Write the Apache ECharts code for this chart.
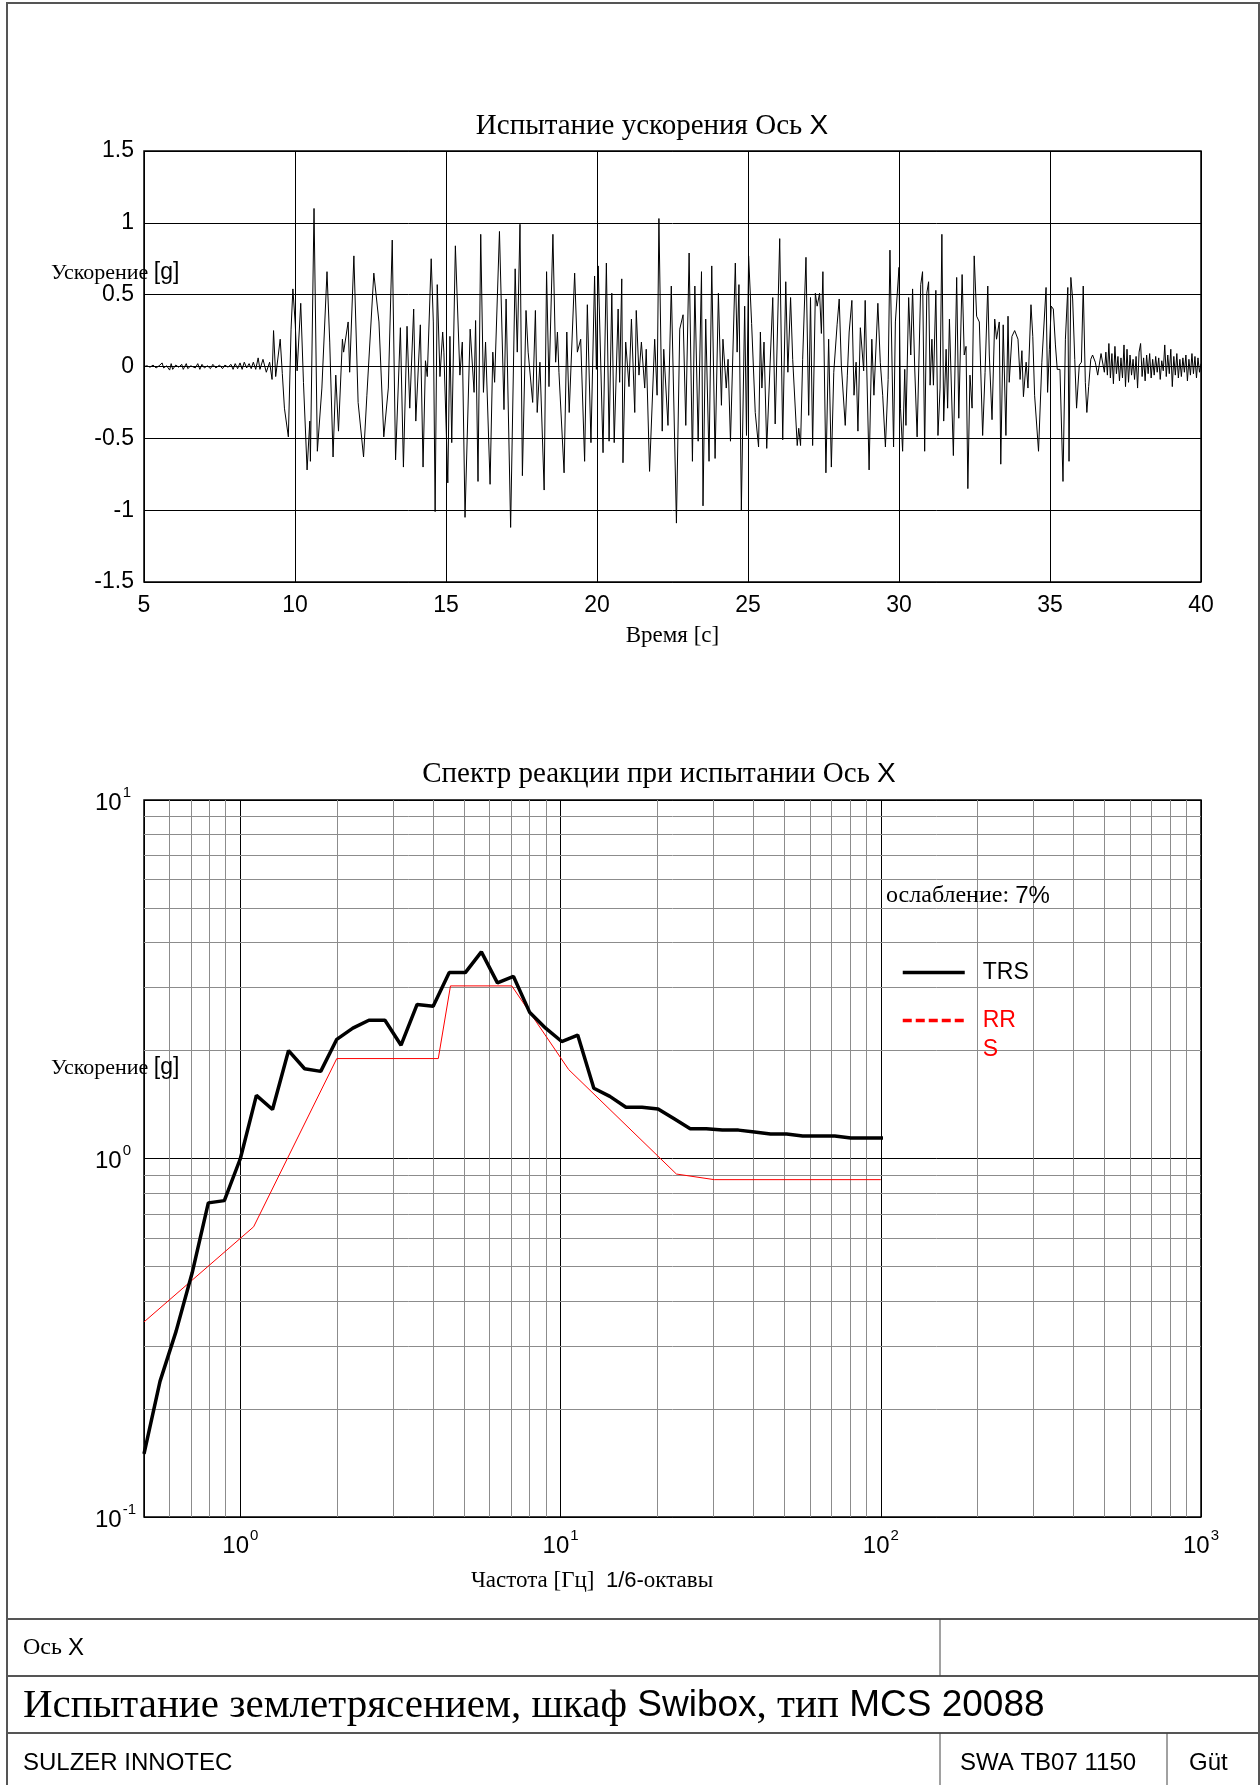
<!DOCTYPE html>
<html>
<head>
<meta charset="utf-8">
<title>Испытание землетрясением — Ось X</title>
<script src="https://cdn.jsdelivr.net/npm/echarts@6.0.0/dist/echarts.min.js"></script>
<style>
  html, body { margin: 0; padding: 0; background: #fff; }
  #chart { width: 1260px; height: 1785px; }
</style>
</head>
<body>
<div id="chart"></div>
<script>
const SERIF = '"Liberation Serif", "Times New Roman", serif';
const SANS = '"Liberation Sans", Arial, sans-serif';

// Acceleration time history (top chart): time [s], value [g]
const accTime = [
  5.00, 5.10, 5.20, 5.30, 5.40, 5.50, 5.60, 5.65, 5.75, 5.85, 5.90, 5.95, 6.05, 6.15, 6.25, 6.30,
  6.40, 6.45, 6.55, 6.70, 6.78, 6.85, 6.92, 7.00, 7.10, 7.20, 7.28, 7.38, 7.50, 7.60, 7.68, 7.78,
  7.88, 7.95, 8.02, 8.10, 8.18, 8.25, 8.32, 8.40, 8.48, 8.55, 8.62, 8.70, 8.78, 8.84,
  8.94, 9.05, 9.16, 9.24, 9.29, 9.36, 9.51, 9.58, 9.65, 9.78, 9.87, 9.93, 10.01, 10.07, 10.19, 10.28,
  10.40, 10.49, 10.51, 10.63, 10.74, 10.89, 11.06, 11.15, 11.26, 11.35, 11.44, 11.57, 11.61, 11.76, 11.81, 11.95,
  12.09, 12.27, 12.38, 12.61, 12.78, 12.94, 13.09, 13.22, 13.33, 13.49, 13.59, 13.71, 13.80, 13.93, 14.00, 14.15,
  14.24, 14.32, 14.38, 14.51, 14.58, 14.64, 14.71, 14.80, 14.89, 14.93, 15.06, 15.13, 15.19, 15.31, 15.46, 15.54,
  15.63, 15.80, 15.93, 15.98, 16.06, 16.15, 16.24, 16.31, 16.46, 16.55, 16.61, 16.77, 16.92, 16.99, 17.14, 17.29,
  17.36, 17.45, 17.53, 17.65, 17.72, 17.87, 17.96, 18.02, 18.11, 18.25, 18.33, 18.41, 18.54, 18.63, 18.69, 18.74,
  18.91, 19.00, 19.08, 19.26, 19.35, 19.46, 19.59, 19.68,
  19.80, 19.92, 19.98, 20.04, 20.20, 20.31, 20.40, 20.49, 20.57, 20.70, 20.75, 20.82, 20.86, 20.95, 21.06, 21.14,
  21.25, 21.30, 21.39, 21.47, 21.58, 21.63, 21.74, 21.91, 21.99, 22.05, 22.16, 22.21, 22.35, 22.46, 22.63, 22.74,
  22.85, 22.94, 23.05, 23.16, 23.24, 23.35, 23.46, 23.51, 23.60, 23.71, 23.80, 23.91, 24.02, 24.12, 24.17, 24.28,
  24.34, 24.42, 24.58, 24.64, 24.70, 24.78, 24.89, 24.95, 25.02, 25.12,
  25.24, 25.35, 25.41, 25.46, 25.53, 25.62, 25.82, 25.90, 26.05, 26.15, 26.25, 26.32, 26.41, 26.48, 26.63, 26.68,
  26.74, 26.81, 26.92, 27.01, 27.07, 27.14, 27.23, 27.29, 27.37, 27.43, 27.48, 27.58, 27.67, 27.76, 27.84, 27.95,
  28.02, 28.09, 28.22, 28.29, 28.35, 28.44, 28.51, 28.58, 28.64, 28.72, 28.83, 28.88, 29.01, 29.10, 29.17, 29.30,
  29.38, 29.46, 29.55, 29.64, 29.70, 29.82, 29.88, 30.00, 30.05, 30.12, 30.19, 30.23, 30.32, 30.39, 30.45, 30.52,
  30.60,
  30.72, 30.78, 30.85, 30.92, 30.98, 31.03, 31.09, 31.14, 31.22, 31.29, 31.36, 31.42, 31.48, 31.56, 31.61, 31.67,
  31.80, 31.91, 31.98, 32.09, 32.16, 32.22, 32.28, 32.35, 32.42, 32.49, 32.57, 32.66, 32.77, 32.85, 32.94, 32.99,
  33.08, 33.17, 33.23, 33.32, 33.37, 33.45, 33.54, 33.61, 33.65, 33.74, 33.83, 33.94, 34.01, 34.07, 34.12, 34.21,
  34.27, 34.37, 34.43, 34.49, 34.62, 34.73, 34.87, 34.92, 34.98, 35.04, 35.11, 35.18, 35.24, 35.33, 35.43, 35.51,
  35.59, 35.63, 35.69, 35.75, 35.82, 35.88, 35.97, 36.04, 36.10, 36.17, 36.22, 36.28, 36.35, 36.41, 36.50, 36.58,
  36.63, 36.69, 36.80,
  36.85, 36.90, 36.95, 37.00, 37.05, 37.10, 37.15, 37.20, 37.25, 37.30, 37.35, 37.40, 37.45, 37.50, 37.55, 37.60,
  37.65, 37.70, 37.75, 37.80, 37.85, 37.90, 37.95, 38.00, 38.05, 38.10, 38.15, 38.20, 38.25, 38.30, 38.35, 38.40,
  38.45, 38.50, 38.55, 38.60, 38.65, 38.70, 38.75, 38.80, 38.85, 38.90, 38.95, 39.00, 39.05, 39.10, 39.15, 39.20,
  39.25, 39.30, 39.35, 39.40, 39.45, 39.50, 39.55, 39.60, 39.65, 39.70, 39.75, 39.80, 39.85, 39.90, 39.95, 40.00
];
const accValue = [
  0, 0.005, -0.005, 0.01, -0.01, 0.005, 0.025, -0.01, 0.005, -0.025, 0.02, -0.02, 0.01, -0.005, 0.015, -0.02,
  0.02, -0.015, 0.005, -0.01, 0.02, -0.02, 0.015, -0.01, 0.005, -0.015, 0.015, -0.01, 0.01, -0.015, 0.01, -0.005,
  0.015, -0.02, 0.02, -0.015, 0.025, -0.02, 0.03, -0.01, 0.02, -0.015, 0.03, -0.02, 0.06, -0.02,
  0.05, -0.04, 0.03, -0.09, 0.25, -0.07, 0.19, -0.05, -0.29, -0.49, 0.26, 0.54, 0.29, -0.03, 0.44, -0.11,
  -0.72, -0.38, -0.66, 1.10, -0.59, -0.15, 0.66, 0.17, -0.63, -0.06, -0.45, 0.19, 0.10, 0.31, -0.04, 0.77,
  -0.25, -0.63, -0.20, 0.65, 0.31, -0.49, -0.15, 0.88, -0.65, 0.27, -0.70, 0.28, -0.29, 0.40, -0.38, 0.29,
  -0.70, 0.04, -0.07, 0.75, 0.31, -1.01, 0.57, -0.07, 0.24, 0.10, -0.81, 0.21, -0.53, 0.84, -0.06, 0.17,
  -1.05, 0.26, -0.18, 0.32, -0.80, 0.92, -0.18, 0.17, -0.82, 0.10, -0.11, 0.94, -0.30, 0.47, -1.12, 0.68,
  0.10, 0.99, -0.76, 0.39, 0.10, -0.25, 0.39, -0.32, 0.03, -0.86, 0.66, -0.14, 0.92, 0.03, 0.24, -0.04,
  -0.74, 0.24, -0.32, 0.65, 0.10, 0.19, -0.66, 0.43,
  -0.53, 0.63, -0.02, 0.70, -0.60, 0.72, -0.52, 0.51, -0.53, 0.40, -0.11, 0.61, -0.67, 0.17, -0.14, 0.33,
  -0.32, 0.39, -0.06, 0.17, -0.15, 0.12, -0.73, 0.19, -0.20, 1.03, -0.45, 0.12, -0.41, 0.56, -1.09, 0.26,
  0.36, -0.41, 0.79, -0.66, 0.56, -0.52, 0.66, -0.97, 0.33, -0.66, 0.70, -0.64, 0.51, -0.27, 0.19, -0.15,
  0.05, -0.52, 0.72, 0.10, 0.57, -1.00, 0.42, -0.48, 0.77, 0.30,
  -0.32, -0.56, 0.24, -0.15, 0.17, -0.57, 0.48, -0.40, 0.89, -0.51, 0.59, -0.04, 0.48, 0.05, -0.55, -0.43,
  -0.55, 0.05, 0.76, -0.34, 0.48, -0.55, 0.51, 0.42, 0.51, 0.23, 0.66, -0.74, 0.19, -0.70, -0.04, 0.29,
  0.47, 0.01, -0.41, -0.06, 0.24, 0.46, -0.20, 0.03, -0.45, 0.27, -0.03, 0.46, -0.72, 0.19, -0.20, 0.44,
  0.03, -0.20, -0.56, -0.09, 0.81, -0.56, 0.31, 0.69, -0.29, -0.59, -0.02, -0.41, 0.48, 0.08, 0.54, -0.01,
  -0.49,
  0.57, 0.66, -0.59, 0.51, 0.59, -0.13, 0.19, -0.13, 0.53, -0.48, -0.15, 0.92, -0.38, 0.12, -0.29, 0.33,
  -0.62, 0.62, -0.36, 0.64, 0.08, 0.14, -0.85, -0.06, -0.29, 0.77, 0.35, 0.31, -0.48, -0.04, 0.56, 0.08,
  -0.37, 0.33, 0.19, 0.31, -0.68, 0.29, -0.48, 0.35, -0.11, 0.21, 0.25, 0.19, -0.09, 0.11, -0.21, 0.03,
  -0.15, 0.43, 0.21, -0.20, -0.59, 0.03, 0.55, -0.18, 0.12, 0.42, 0.40, 0.15, -0.02, -0.02, -0.80, 0.19,
  0.55, -0.66, 0.62, 0.47, 0.05, -0.29, 0.01, 0.03, 0.56, -0.11, -0.32, -0.14, 0.05, 0.08, 0.03, -0.06,
  0.01, 0.09, -0.04,
  0.10, -0.06, 0.16, -0.08, 0.09, -0.12, 0.14, -0.05, 0.07, -0.10, 0.06, -0.08, 0.15, -0.14, 0.12, -0.11,
  0.08, -0.06, 0.05, -0.09, 0.07, -0.15, 0.10, 0.16, -0.07, 0.06, -0.10, 0.08, -0.05, 0.09, -0.08, 0.05,
  -0.06, 0.07, -0.04, 0.06, -0.09, 0.04, -0.03, 0.15, -0.07, 0.08, -0.05, 0.12, -0.14, 0.07, -0.06, 0.09,
  -0.08, 0.05, -0.07, 0.06, -0.04, 0.08, -0.10, 0.05, -0.06, 0.09, -0.05, 0.07, -0.08, 0.06, -0.04, 0.02
];

// Response spectrum (bottom chart), 1/6-octave frequencies [Hz] and acceleration [g]
const trsFreq = [
  0.5, 0.561, 0.63, 0.707, 0.794, 0.891, 1, 1.122, 1.26, 1.414, 1.587, 1.782, 2, 2.245, 2.52, 2.828,
  3.175, 3.564, 4, 4.49, 5.04, 5.657, 6.35, 7.127, 8, 8.98, 10.08, 11.31, 12.7, 14.25, 16, 17.96,
  20.16, 22.63, 25.4, 28.51, 32, 35.92, 40.32, 45.25, 50.8, 57.02, 64, 71.84, 80.63, 90.51, 101.6
];
const trsAcc = [
  0.15, 0.239, 0.33, 0.48, 0.752, 0.763, 1.0, 1.5, 1.37, 2.0, 1.78, 1.75, 2.15, 2.31, 2.43, 2.43,
  2.07, 2.69, 2.66, 3.3, 3.3, 3.77, 3.09, 3.22, 2.56, 2.31, 2.12, 2.21, 1.57, 1.49, 1.39, 1.39,
  1.375, 1.29, 1.21, 1.21, 1.2, 1.2, 1.185, 1.17, 1.17, 1.155, 1.155, 1.155, 1.14, 1.14, 1.14
];
const rrsFreq = [0.5, 1.1, 2.0, 4.15, 4.53, 7.04, 10.6, 23.0, 30.2, 100];
const rrsAcc = [0.35, 0.645, 1.9, 1.9, 3.03, 3.03, 1.77, 0.905, 0.873, 0.873];

// Intermediate lines of the log-log grid (2..9 within each decade)
const minorFreqLines = [0.6, 0.7, 0.8, 0.9, 2, 3, 4, 5, 6, 7, 8, 9, 20, 30, 40, 50, 60, 70, 80, 90,
  200, 300, 400, 500, 600, 700, 800, 900];
const minorAccLines = [0.2, 0.3, 0.4, 0.5, 0.6, 0.7, 0.8, 0.9, 2, 3, 4, 5, 6, 7, 8, 9];

const zip = (xs, ys) => xs.map((x, i) => [x, ys[i]]);

// "10^n" labels on the decades, nothing elsewhere
const powLabel = (v) => {
  const lg = Math.log10(v);
  const e = Math.round(lg);
  if (Math.abs(lg - e) > 1e-6) return '';
  return '{b|10}{e|' + e + '}';
};
const powRich = {
  b: { fontFamily: SANS, fontSize: 24, color: '#000', lineHeight: 30, verticalAlign: 'bottom' },
  e: { fontFamily: SANS, fontSize: 15, color: '#000', lineHeight: 15, verticalAlign: 'top', padding: [0, 0, 0, 1] }
};

const chart = echarts.init(document.getElementById('chart'));

const option = {
  animation: false,
  backgroundColor: '#fff',
  title: [
    {
      text: 'Испытание ускорения Ось {s|X}',
      left: 647, top: 107, textAlign: 'center',
      textStyle: { fontFamily: SERIF, fontSize: 29, fontWeight: 'normal', color: '#000',
        rich: { s: { fontFamily: SANS, fontSize: 28, color: '#000' } } }
    },
    {
      text: 'Спектр реакции при испытании Ось {s|X}',
      left: 654, top: 755, textAlign: 'center',
      textStyle: { fontFamily: SERIF, fontSize: 29, fontWeight: 'normal', color: '#000',
        rich: { s: { fontFamily: SANS, fontSize: 28, color: '#000' } } }
    }
  ],
  grid: [
    { left: 144, top: 151, width: 1057, height: 431, show: true, borderColor: '#000', borderWidth: 1.5 },
    { left: 144, top: 800, width: 1057, height: 717, show: true, borderColor: '#000', borderWidth: 1.5 }
  ],
  xAxis: [
    {
      gridIndex: 0, type: 'value', min: 5, max: 40, interval: 5,
      axisLine: { show: false }, axisTick: { show: false },
      axisLabel: { fontFamily: SANS, fontSize: 23, color: '#000', margin: 12 },
      splitLine: { show: true, lineStyle: { color: '#000', width: 1 } },
      name: 'Время [с]', nameLocation: 'middle', nameGap: 42,
      nameTextStyle: { fontFamily: SERIF, fontSize: 23, color: '#000' }
    },
    {
      gridIndex: 1, type: 'log', logBase: 10, min: 0.5, max: 1000,
      axisLine: { show: false }, axisTick: { show: false },
      axisLabel: { interval: 0, margin: 11, formatter: powLabel, rich: powRich },
      splitLine: { show: true, lineStyle: { color: '#000', width: 1 } }
    }
  ],
  yAxis: [
    {
      gridIndex: 0, type: 'value', min: -1.5, max: 1.5, interval: 0.5,
      axisLine: { show: false }, axisTick: { show: false },
      axisLabel: { fontFamily: SANS, fontSize: 23, color: '#000', margin: 10 },
      splitLine: { show: true, lineStyle: { color: '#000', width: 1 } }
    },
    {
      gridIndex: 1, type: 'log', logBase: 10, min: 0.1, max: 10,
      axisLine: { show: false }, axisTick: { show: false },
      axisLabel: { interval: 0, margin: 49, align: 'left', formatter: powLabel, rich: powRich },
      splitLine: { show: true, lineStyle: { color: '#000', width: 1 } }
    }
  ],
  legend: [
    {
      data: ['TRS'], left: 901, top: 961, padding: 0, orient: 'vertical', selectedMode: false,
      itemWidth: 62, itemHeight: 14, lineStyle: { width: 3.5 }, itemStyle: { opacity: 0 },
      textStyle: { fontFamily: SANS, fontSize: 23, color: '#000', padding: [0, 0, 0, 13] }
    },
    {
      // first line left blank so that "RR" sits level with the dashed sample
      data: ['RRS'], left: 901, top: 977, padding: 0, orient: 'vertical', selectedMode: false,
      itemWidth: 62, itemHeight: 14, lineStyle: { width: 3.5, type: [9, 4] }, itemStyle: { opacity: 0 },
      formatter: () => '\u00a0\nRR\nS',
      textStyle: { fontFamily: SANS, fontSize: 23, lineHeight: 29, color: '#ff0000', padding: [0, 0, 0, 13] }
    }
  ],
  series: [
    {
      name: 'Ускорение', type: 'line', xAxisIndex: 0, yAxisIndex: 0,
      data: zip(accTime, accValue), symbol: 'none',
      lineStyle: { color: '#000', width: 1 }
    },
    {
      name: 'logGrid', type: 'line', xAxisIndex: 1, yAxisIndex: 1, data: [], silent: true, z: 1,
      markLine: {
        silent: true, z: 1, symbol: ['none', 'none'], label: { show: false },
        lineStyle: { color: '#8c8c8c', width: 1, type: 'solid' },
        emphasis: { disabled: true },
        data: minorFreqLines.map((f) => ({ xAxis: f })).concat(minorAccLines.map((a) => ({ yAxis: a })))
      }
    },
    {
      name: 'RRS', type: 'line', xAxisIndex: 1, yAxisIndex: 1, z: 3,
      data: zip(rrsFreq, rrsAcc), symbol: 'none',
      lineStyle: { color: '#ff0000', width: 1 }, itemStyle: { color: '#ff0000' }
    },
    {
      name: 'TRS', type: 'line', xAxisIndex: 1, yAxisIndex: 1, z: 4,
      data: zip(trsFreq, trsAcc), symbol: 'none',
      lineStyle: { color: '#000', width: 3.5 }, itemStyle: { color: '#000' }
    }
  ],
  graphic: [
    // page frame and title block
    { type: 'rect', silent: true, shape: { x: 7, y: 3, width: 1252, height: 1800 },
      style: { fill: 'none', stroke: '#555', lineWidth: 2 } },
    { type: 'line', silent: true, shape: { x1: 7, y1: 1619, x2: 1259, y2: 1619 }, style: { stroke: '#555', lineWidth: 2 } },
    { type: 'line', silent: true, shape: { x1: 7, y1: 1676, x2: 1259, y2: 1676 }, style: { stroke: '#555', lineWidth: 2 } },
    { type: 'line', silent: true, shape: { x1: 7, y1: 1733, x2: 1259, y2: 1733 }, style: { stroke: '#555', lineWidth: 2 } },
    { type: 'line', silent: true, shape: { x1: 940, y1: 1619, x2: 940, y2: 1676 }, style: { stroke: '#444', lineWidth: 1 } },
    { type: 'line', silent: true, shape: { x1: 940, y1: 1733, x2: 940, y2: 1785 }, style: { stroke: '#444', lineWidth: 1 } },
    { type: 'line', silent: true, shape: { x1: 1167, y1: 1733, x2: 1167, y2: 1785 }, style: { stroke: '#444', lineWidth: 1 } },
    // axis titles placed as in the original
    { type: 'text', x: 51, y: 273, z: 10, style: {
        text: '{s|Ускорение }{a|[g]}', align: 'left', verticalAlign: 'middle',
        rich: { s: { fontFamily: SERIF, fontSize: 22, fill: '#000' }, a: { fontFamily: SANS, fontSize: 23, fill: '#000' } } } },
    { type: 'text', x: 51, y: 1068, z: 10, style: {
        text: '{s|Ускорение }{a|[g]}', align: 'left', verticalAlign: 'middle',
        rich: { s: { fontFamily: SERIF, fontSize: 22, fill: '#000' }, a: { fontFamily: SANS, fontSize: 23, fill: '#000' } } } },
    { type: 'text', x: 592, y: 1581, z: 10, style: {
        text: '{s|Частота [Гц]  }{a|1/6-}{s|октавы}', align: 'center', verticalAlign: 'middle',
        rich: { s: { fontFamily: SERIF, fontSize: 23, fill: '#000' }, a: { fontFamily: SANS, fontSize: 22, fill: '#000' } } } },
    { type: 'text', x: 886, y: 896, z: 10, style: {
        text: '{s|ослабление: }{a|7%}', align: 'left', verticalAlign: 'middle',
        rich: { s: { fontFamily: SERIF, fontSize: 24, fill: '#000' }, a: { fontFamily: SANS, fontSize: 24, fill: '#000' } } } },
    // title block texts
    { type: 'text', x: 23, y: 1648, style: {
        text: '{s|Ось }{a|X}', align: 'left', verticalAlign: 'middle',
        rich: { s: { fontFamily: SERIF, fontSize: 24, fill: '#000' }, a: { fontFamily: SANS, fontSize: 24, fill: '#000' } } } },
    { type: 'text', x: 23, y: 1706, style: {
        text: '{s|Испытание землетрясением, шкаф }{a|Swibox}{s|, тип }{a|MCS 20088}', align: 'left', verticalAlign: 'middle',
        rich: { s: { fontFamily: SERIF, fontSize: 41, fill: '#000' }, a: { fontFamily: SANS, fontSize: 37, fill: '#000' } } } },
    { type: 'text', x: 23, y: 1763, style: {
        text: 'SULZER INNOTEC', align: 'left', verticalAlign: 'middle', fontFamily: SANS, fontSize: 24, fill: '#000' } },
    { type: 'text', x: 960, y: 1763, style: {
        text: 'SWA TB07 1150', align: 'left', verticalAlign: 'middle', fontFamily: SANS, fontSize: 24, fill: '#000' } },
    { type: 'text', x: 1189, y: 1763, style: {
        text: 'Güt', align: 'left', verticalAlign: 'middle', fontFamily: SANS, fontSize: 24, fill: '#000' } }
  ]
};

chart.setOption(option);
window.addEventListener('resize', () => chart.resize());
</script>
</body>
</html>
